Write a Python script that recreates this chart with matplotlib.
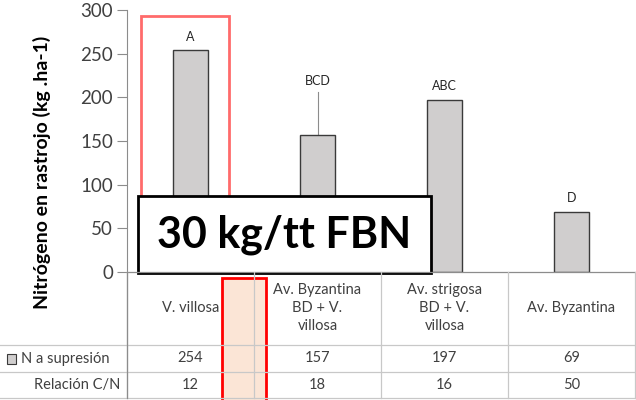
import matplotlib
matplotlib.use("Agg")
import matplotlib.pyplot as plt
import matplotlib.patches as mpatches
from matplotlib.transforms import blended_transform_factory

plt.rcParams["font.family"] = ["Lato", "DejaVu Sans"]

categories = ["V. villosa", "Av. Byzantina\nBD + V.\nvillosa",
              "Av. strigosa\nBD + V.\nvillosa", "Av. Byzantina"]
n_supresion = [254, 157, 197, 69]
relacion_cn = [12, 18, 16, 50]
letters = ["A", "BCD", "ABC", "D"]
letter_y = [269, 219, 213, 85]
yticks = [0, 50, 100, 150, 200, 250, 300]

W, H = 636, 400
fig = plt.figure(figsize=(W / 100, H / 100), dpi=100, facecolor="white")

def fx(px):
    return px / W

def fy(py):
    return 1 - py / H

ax = fig.add_axes([fx(127), fy(272), fx(635) - fx(127), fy(10) - fy(272)])
x = range(len(categories))
ax.bar(x, n_supresion, width=0.28, color="#d0cece", edgecolor="#3a3a3a", linewidth=1.0, zorder=2)
ax.set_xlim(-0.5, 3.5)
ax.set_ylim(0, 300)
ax.set_yticks(yticks)
ax.tick_params(axis="y", direction="out", length=7, width=0.8, color="#8c8c8c",
               labelsize=13.5, labelcolor="#404040", pad=3)
ax.set_xticks([])
for s in ["top", "right", "bottom"]:
    ax.spines[s].set_visible(False)
ax.spines["left"].set_color("#8c8c8c")
ax.spines["left"].set_linewidth(0.8)

# label leader on the second bar
ax.plot([1, 1], [n_supresion[1], 206], color="#8c8c8c", lw=0.8, zorder=1)
for i, (lab, ly) in enumerate(zip(letters, letter_y)):
    ax.text(i, ly, lab, ha="center", va="center", fontsize=9, color="#262626")

fig.text(fx(42), fy(172), "Nitrógeno en rastrojo (kg .ha-1)", rotation=90,
         ha="center", va="center", fontsize=14, fontweight="bold", color="black")

# data table under the axis
tr = blended_transform_factory(ax.transData, fig.transFigure)
grid = "#c8c8c8"
row_y = [272, 345, 372, 398]
fig.add_artist(plt.Line2D([fx(127), fx(635)], [fy(272), fy(272)], color="#8c8c8c", lw=0.9))
for yy in row_y[1:]:
    fig.add_artist(plt.Line2D([0, fx(635)], [fy(yy), fy(yy)], color=grid, lw=0.9))
for b in [-0.5, 0.5, 1.5, 2.5, 3.5]:
    fig.add_artist(plt.Line2D([b, b], [fy(272), fy(398)], color=grid, lw=0.9, transform=tr))
fig.add_artist(plt.Line2D([fx(127), fx(127)], [fy(272), fy(398)], color="#8c8c8c", lw=0.9))

for i, cat in enumerate(categories):
    fig.text(i, fy(308), cat, transform=tr, ha="center", va="center", fontsize=10.5,
             color="#404040", linespacing=1.35)
    fig.text(i, fy(358.5), str(n_supresion[i]), transform=tr, ha="center", va="center",
             fontsize=10.5, color="#404040")
    fig.text(i, fy(385), str(relacion_cn[i]), transform=tr, ha="center", va="center",
             fontsize=10.5, color="#404040")

fig.add_artist(mpatches.Rectangle((fx(7), fy(364)), fx(9), fy(354) - fy(364),
                                  facecolor="#d0cece", edgecolor="#3a3a3a", lw=0.8))
fig.text(fx(21), fy(358.5), "N a supresión", ha="left", va="center", fontsize=10.5, color="#404040")
fig.text(fx(120), fy(385), "Relación C/N", ha="right", va="center", fontsize=10.5, color="#404040")

# highlight frames
fig.add_artist(mpatches.Rectangle((fx(141), fy(272)), fx(229) - fx(141), fy(16) - fy(272),
                                  facecolor="none", edgecolor="#ff6b6b", lw=2))
fig.add_artist(mpatches.Rectangle((fx(222), fy(402)), fx(266) - fx(222), fy(278) - fy(402),
                                  facecolor="#fbe5d6", edgecolor="#ff0000", lw=2))
fig.add_artist(mpatches.Rectangle((fx(138), fy(273)), fx(431) - fx(138), fy(196) - fy(273),
                                  facecolor="white", edgecolor="black", lw=2))
fig.text(fx(284), fy(235), "30 kg/tt FBN", ha="center", va="center", fontsize=31,
         fontweight="bold", color="black")

fig.savefig("out.png", dpi=100, facecolor="white")
